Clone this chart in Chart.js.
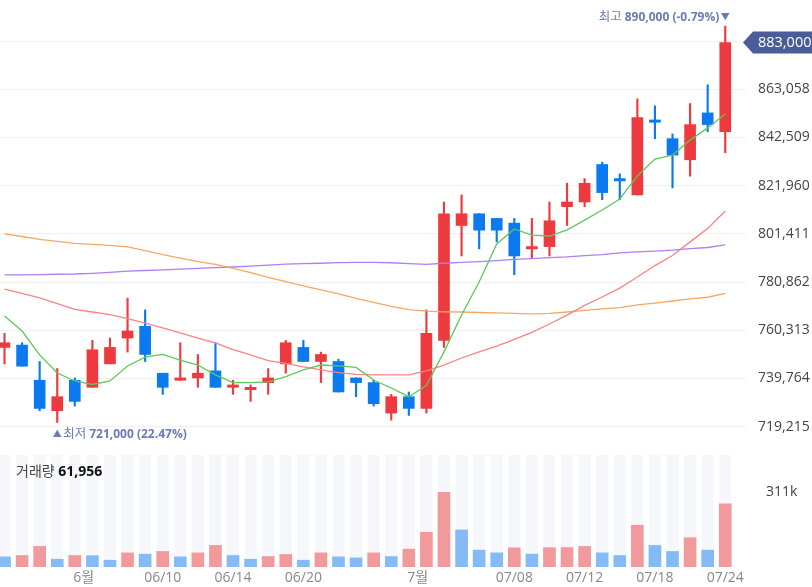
<!DOCTYPE html>
<html lang="ko">
<head>
<meta charset="UTF-8">
<title>주가 차트</title>
<script src="https://cdn.jsdelivr.net/npm/chart.js"></script>
<style>
  html, body { margin: 0; padding: 0; background: #fff; }
  body { width: 812px; height: 587px; position: relative; overflow: hidden;
         font-family: 'Open Sans', 'Noto Sans CJK KR', sans-serif; }
  #price-wrap { position: absolute; left: 0; top: 0; width: 812px; height: 445px; }
  #vol-wrap { position: absolute; left: 0; top: 455px; width: 812px; height: 132px; }
  #vol-title { position: absolute; left: 16px; top: 460px; font-size: 14px; color: #444; z-index: 2; }
  #vol-title b { color: #111; }
</style>
</head>
<body>
<div id="price-wrap"><canvas id="price"></canvas></div>
<div id="vol-wrap"><canvas id="vol"></canvas></div>
<div id="vol-title">거래량 <b>61,956</b></div>

<script>
// trading days (05/27 ~ 07/24)
const dates = ['05/27','05/28','05/29','05/30','05/31','06/03','06/04','06/05','06/07','06/10',
  '06/11','06/12','06/13','06/14','06/17','06/18','06/19','06/20','06/21','06/24',
  '06/25','06/26','06/27','06/28','07/01','07/02','07/03','07/04','07/05','07/08',
  '07/09','07/10','07/11','07/12','07/15','07/16','07/17','07/18','07/19','07/22',
  '07/23','07/24'];

const opens = [753000,754000,739000,726000,739000,736000,746000,757000,762000,742000,
  739000,740000,743000,736000,735000,738000,746000,753000,747000,747000,
  740000,738000,725000,732000,727000,756000,805000,810000,808000,806000,
  795000,796000,813000,815000,831000,825000,818000,850000,842000,833000,
  853000,845000];
const highs = [759000,755000,747000,744000,740000,756000,757000,774000,769000,742000,
  755000,750000,755000,739000,737000,744000,756000,756000,751000,748000,
  740000,739000,733000,734000,769000,815000,818000,810000,808000,808000,
  808000,815000,823000,825000,832000,827000,859000,856000,844000,857000,
  865000,890000];
const lows = [746000,745000,726000,721000,728000,736000,746000,751000,747000,733000,
  739000,736000,736000,733000,730000,733000,742000,747000,738000,734000,
  732000,728000,722000,724000,725000,753000,792000,795000,798000,784000,
  791000,792000,805000,813000,816000,816000,818000,842000,821000,826000,
  845000,836000];
const closes = [755000,745000,727000,732000,730000,752000,753000,760000,750000,736000,
  740000,742000,736000,737000,736000,740000,755000,747000,750000,734000,
  738000,729000,732000,727000,759000,810000,810000,803000,803000,792000,
  796000,807000,815000,823000,819000,824000,851000,849000,835000,848000,
  848000,883000];

// moving averages as drawn
const ma5 = [766400,760000,749800,742100,738700,737200,738700,745100,748900,750000,
  747600,745500,741300,738000,738000,738300,740600,743400,745500,745100,
  744500,739100,735700,732000,736800,751100,766800,780900,797100,803500,
  800900,800500,803100,807300,811600,816300,826100,833300,835000,841400,
  846600,852500];
const ma20 = [777900,776000,774100,771700,769200,768100,767000,765300,763400,761300,
  759200,757000,754900,752100,749800,747400,746200,744700,743400,742300,
  741500,741300,741300,741300,743000,745500,748500,751100,753600,756400,
  759400,763000,766800,770900,774500,778300,783000,787900,792200,798000,
  803700,811200];
const ma60 = [801400,800300,799100,798200,797400,796900,796500,795900,794300,792600,
  791100,789600,788400,786700,784900,782900,781100,779200,777500,775800,
  773900,772200,770500,769100,768500,768200,768100,767900,767700,767500,
  767300,767500,768100,768800,769400,770000,771100,771900,772800,773700,
  774400,776000];
const ma120 = [783900,783900,784000,784200,784300,784600,785000,785500,785800,786100,
  786400,786700,787000,787300,787700,788100,788500,788700,788900,789200,
  789300,789300,789100,788700,788400,788900,789300,789600,790000,790500,
  790900,791300,791600,792100,792600,793300,793700,794100,794500,795100,
  795600,796700];

const volumes = [42000,47900,85700,32400,48000,47000,28200,58800,53400,64700,
  42000,58800,89900,47900,32400,43700,52100,28200,58800,42000,
  37800,58800,43700,74400,144600,311000,154300,70200,58800,79900,
  53400,80500,81000,85700,58800,47900,174000,89900,64700,121900,
  70200,263500];
const volumeBefore = 51000; // 05/24

const priceTicks = [719215,739764,760313,780862,801411,821960,842509,863058,883607];

// x-axis labels: month names sit half a day before the month's first session
const axisDates = ['06/10','06/14','06/20','07/08','07/12','07/18','07/24'];
const monthStarts = [['6월','06/03'], ['7월','07/01']];

const FONT = "'Open Sans', 'Noto Sans CJK KR', sans-serif";
Chart.defaults.font.family = FONT;
Chart.defaults.font.size = 14;

const X_MIN = -0.256, X_MAX = 42.18;
const AXIS_W = 66;
const UP = '#ee3a3e', DOWN = '#0b7af0';
const idx = dates.map((d, i) => i);
const candleColors = idx.map(i => closes[i] >= opens[i] ? UP : DOWN);

function fitY(scale) {
  scale.width = AXIS_W;
  scale.paddingTop = 0;
  scale.paddingBottom = 0;
}

const priceMarks = {
  id: 'priceMarks',
  afterDraw(chart) {
    const {ctx, chartArea, scales: {x, y}} = chart;
    const last = closes[closes.length - 1];
    const hiVal = Math.max(...highs), loVal = Math.min(...lows);
    const hi = highs.indexOf(hiVal), lo = lows.indexOf(loVal);
    const fmt = v => v.toLocaleString('en-US');
    const markColor = '#6a7cb4';
    ctx.save();
    ctx.fillStyle = markColor;
    ctx.textBaseline = 'middle';

    // highest
    let bx = x.getPixelForValue(hi);
    let by = y.getPixelForValue(hiVal) - 9;
    ctx.font = '9px ' + FONT;
    ctx.textAlign = 'center';
    ctx.fillText('▼', bx, by);
    const hiTxt = fmt(hiVal) + ' (' + ((last - hiVal) / hiVal * 100).toFixed(2) + '%)';
    ctx.font = 'bold 12px ' + FONT;
    ctx.textAlign = 'right';
    ctx.fillText(hiTxt, bx - 6, by);
    const w1 = ctx.measureText(hiTxt).width;
    ctx.font = '12.5px ' + FONT;
    ctx.fillText('최고', bx - 9 - w1, by);

    // lowest
    bx = x.getPixelForValue(lo);
    by = y.getPixelForValue(loVal) + 12;
    ctx.font = '9px ' + FONT;
    ctx.textAlign = 'center';
    ctx.fillText('▲', bx, by);
    ctx.textAlign = 'left';
    ctx.font = '12.5px ' + FONT;
    ctx.fillText('최저', bx + 6, by);
    const w2 = ctx.measureText('최저').width;
    ctx.font = 'bold 12px ' + FONT;
    ctx.fillText(fmt(loVal) + ' (' + ((last - loVal) / loVal * 100).toFixed(2) + '%)', bx + 9 + w2, by);

    // current price tag
    const ty = y.getPixelForValue(last);
    const tl = chartArea.right - 3;
    ctx.fillStyle = '#4b5d99';
    ctx.beginPath();
    ctx.moveTo(tl, ty);
    ctx.lineTo(tl + 10, ty - 11);
    ctx.lineTo(chart.width, ty - 11);
    ctx.lineTo(chart.width, ty + 11);
    ctx.lineTo(tl + 10, ty + 11);
    ctx.closePath();
    ctx.fill();
    ctx.fillStyle = '#fff';
    ctx.font = '14.5px ' + FONT;
    ctx.textAlign = 'left';
    ctx.fillText(fmt(last), chartArea.right + 12, ty + 0.5);
    ctx.restore();
  }
};

const lineSet = (label, values, color) => ({
  type: 'line', label, data: values.map((v, i) => ({x: i, y: v})),
  borderColor: color, borderWidth: 1.3, pointRadius: 0, tension: 0, order: 0
});

new Chart(document.getElementById('price'), {
  type: 'bar',
  data: {
    datasets: [
      lineSet('MA5', ma5, '#5cc85a'),
      lineSet('MA20', ma20, '#fb8383'),
      lineSet('MA60', ma60, '#f6a862'),
      lineSet('MA120', ma120, '#b07ef2'),
      { label: 'body', data: idx.map(i => ({x: i, y: [opens[i], closes[i]]})),
        backgroundColor: candleColors, barThickness: 11, minBarLength: 2, grouped: false, order: 1 },
      { label: 'wick', data: idx.map(i => ({x: i, y: [lows[i], highs[i]]})),
        backgroundColor: candleColors, barThickness: 1.5, grouped: false, order: 2 }
    ]
  },
  options: {
    responsive: true, maintainAspectRatio: false, animation: false,
    layout: { padding: 0 },
    plugins: { legend: { display: false }, tooltip: { enabled: false } },
    scales: {
      x: { type: 'linear', min: X_MIN, max: X_MAX, offset: false, display: false },
      y: {
        position: 'right', min: 711400, max: 901130,
        afterBuildTicks: s => { s.ticks = priceTicks.map(v => ({value: v})); },
        afterFit: fitY,
        grid: { color: '#eff0f4', drawTicks: false },
        border: { display: false },
        ticks: { padding: 12, color: '#444', callback: v => v.toLocaleString('en-US') }
      }
    }
  },
  plugins: [priceMarks]
});

// volume
const maxVol = Math.max(...volumes);
const volColors = volumes.map((v, i) => v >= (i ? volumes[i - 1] : volumeBefore) ? '#f2999c' : '#84bbf7');
const tickPos = [], tickText = [];
monthStarts.forEach(([m, d]) => { tickPos.push(dates.indexOf(d) - 0.5); tickText.push(m); });
axisDates.forEach(d => { tickPos.push(dates.indexOf(d)); tickText.push(d); });

const volColumns = {
  id: 'volColumns',
  beforeDatasetsDraw(chart) {
    const {ctx, chartArea: a, scales: {x}} = chart;
    ctx.save();
    ctx.fillStyle = '#f5f7fb';
    idx.forEach(i => {
      const px = x.getPixelForValue(i);
      ctx.fillRect(px - 6, a.top, 12, a.bottom - a.top);
    });
    ctx.restore();
  }
};

new Chart(document.getElementById('vol'), {
  type: 'bar',
  data: {
    datasets: [{
      label: '거래량', data: volumes.map((v, i) => ({x: i, y: v})),
      backgroundColor: volColors, barThickness: 12, grouped: false
    }]
  },
  options: {
    responsive: true, maintainAspectRatio: false, animation: false,
    layout: { padding: 0 },
    plugins: { legend: { display: false }, tooltip: { enabled: false } },
    scales: {
      x: {
        type: 'linear', min: X_MIN, max: X_MAX, offset: false,
        grid: { display: false, drawTicks: false }, border: { display: false },
        afterBuildTicks: s => { s.ticks = tickPos.map(v => ({value: v})); },
        afterFit: s => { s.height = 20; s.paddingLeft = 0; s.paddingRight = 0; },
        ticks: { autoSkip: false, maxRotation: 0, padding: 3, color: '#888',
                 callback: v => tickText[tickPos.indexOf(v)] }
      },
      y: {
        position: 'right', min: 0, max: maxVol * 1.5,
        grid: { display: false }, border: { display: false },
        afterBuildTicks: s => { s.ticks = [{value: maxVol}]; },
        afterFit: fitY,
        ticks: { padding: 12, color: '#444', callback: v => Math.round(v / 1000) + 'k' }
      }
    }
  },
  plugins: [volColumns]
});
</script>
</body>
</html>
